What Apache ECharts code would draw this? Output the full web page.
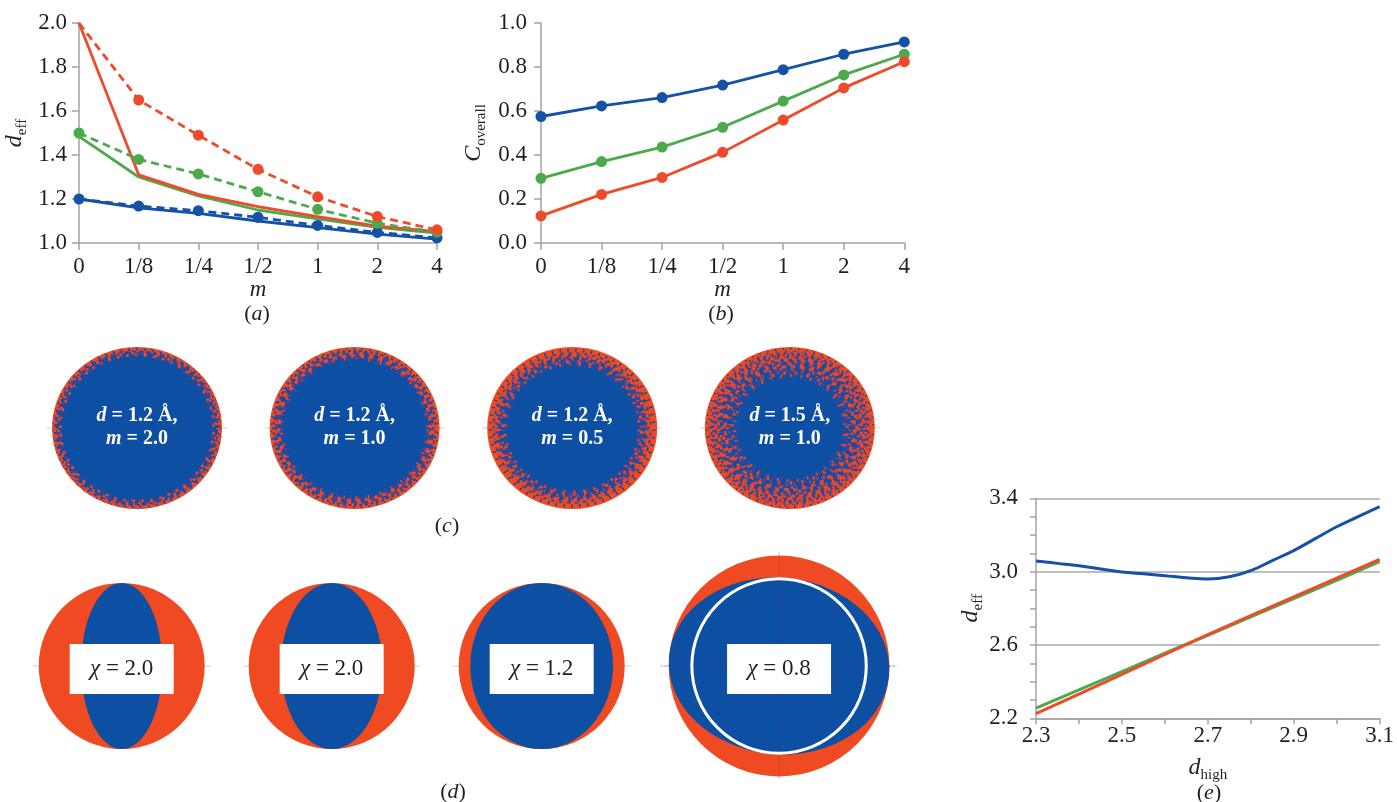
<!DOCTYPE html>
<html>
<head>
<meta charset="utf-8">
<title>Effective resolution, completeness and sampling discs</title>
<script src="https://cdn.jsdelivr.net/npm/echarts@6.0.0/dist/echarts.min.js"></script>
<style>
  html, body { margin: 0; padding: 0; background: #fff; }
  #chart { width: 1397px; height: 802px; }
</style>
</head>
<body>
<div id="chart"></div>
<script>
// ---------- data ----------
const mLabels = ['0', '1/8', '1/4', '1/2', '1', '2', '4'];

// (a) effective resolution d_eff against m
const aRedDashed   = [2.0, 1.65, 1.49, 1.335, 1.21, 1.12, 1.06];
const aRedSolid    = [2.0, 1.31, 1.221, 1.165, 1.12, 1.077, 1.052];
const aGreenDashed = [1.5, 1.38, 1.314, 1.233, 1.153, 1.09, 1.049];
const aGreenSolid  = [1.485, 1.30, 1.214, 1.15, 1.11, 1.071, 1.045];
const aBlueDashed  = [1.2, 1.168, 1.147, 1.117, 1.08, 1.048, 1.023];
const aBlueSolid   = [1.2, 1.16, 1.135, 1.1, 1.07, 1.04, 1.018];

// (b) overall completeness against m
const bBlue  = [0.575, 0.623, 0.661, 0.718, 0.788, 0.858, 0.914];
const bGreen = [0.294, 0.37, 0.436, 0.526, 0.645, 0.764, 0.858];
const bRed   = [0.123, 0.221, 0.298, 0.412, 0.559, 0.705, 0.824];

// (c) sampled discs: resolution, m, solid red edge and speckled rim depth (fraction of radius)
const cD    = ['1.2', '1.2', '1.2', '1.5'];
const cM    = ['2.0', '1.0', '0.5', '1.0'];
const cEdge = [0.02, 0.035, 0.065, 0.035];
const cRim  = [0.09, 0.12, 0.16, 0.33];

// (d) anisotropic discs: chi, relative disc size, blue ellipse half-axes, white circle, tilt (deg)
const dChi    = ['2.0', '2.0', '1.2', '0.8'];
const dScale  = [1, 1, 1, 1.33];
const dInnerX = [0.49, 0.61, 0.86, 1.0];
const dInnerY = [1.0, 1.0, 1.0, 0.8];
const dRing   = [0, 0, 0, 0.79];
const dTilt   = [0, 0, 0, -5];

// (e) d_eff against d_high
const eHigh = [2.3, 2.35, 2.4, 2.45, 2.5, 2.55, 2.6, 2.65, 2.7, 2.75, 2.8, 2.85, 2.9, 2.95, 3.0, 3.05, 3.1];
const eBlue = [3.058, 3.045, 3.032, 3.014, 2.998, 2.988, 2.978, 2.967, 2.960, 2.972, 3.005, 3.06, 3.115, 3.18, 3.245, 3.30, 3.355];
const eHighCoarse = [2.3, 2.4, 2.5, 2.6, 2.7, 2.8, 2.9, 3.0, 3.1];
const eGreen = [2.255, 2.355, 2.455, 2.555, 2.653, 2.753, 2.853, 2.953, 3.055];
const eRed   = [2.225, 2.332, 2.44, 2.548, 2.656, 2.76, 2.862, 2.965, 3.067];

// ---------- styles ----------
const SERIF = 'Liberation Serif';
const INK = '#231f20';
const AXIS_GREY = '#a3a3a3';
const BLUE = '#1551a6', RED = '#ee4b2b', GREEN = '#4caa4c';
const DISC_BLUE = '#0c4fa3', DISC_RED = '#f04a22', FLECK = '#6a3a90';

const axisLine = { show: true, onZero: false, lineStyle: { color: AXIS_GREY, width: 1.5 } };
const tick = (len) => ({ show: true, length: len, lineStyle: { color: AXIS_GREY, width: 1.5 } });
const tickLabel = (margin, extra) => Object.assign({ fontFamily: SERIF, fontSize: 23, color: INK, margin }, extra || {});

const subRich = {
  i: { fontFamily: SERIF, fontStyle: 'italic', fontSize: 24, lineHeight: 30, verticalAlign: 'middle', color: INK },
  s: { fontFamily: SERIF, fontSize: 15, lineHeight: 16, verticalAlign: 'bottom', color: INK }
};
const subName = (main, sub) => '{i|' + main + '}{s|' + sub + '}';
const italicName = { fontFamily: SERIF, fontStyle: 'italic', fontSize: 23, lineHeight: 23, color: INK };

function lineSeries(axis, data, color, dashed, dots) {
  return {
    type: 'line', xAxisIndex: axis, yAxisIndex: axis, data,
    symbol: dots ? 'circle' : 'none', symbolSize: 11, showSymbol: !!dots,
    lineStyle: { color, width: 2.8, type: dashed ? [8, 5] : 'solid' },
    itemStyle: { color }, emphasis: { disabled: true }, z: dashed ? 4 : 3
  };
}

// centres of discs packed side by side with a fixed gap (axis units = disc radius)
function packCentres(scales, gap) {
  const out = [];
  let x = 0;
  scales.forEach((s, i) => { x += (i ? gap : 0) + s; out.push(x); x += s; });
  return out;
}
const cCentres = packCentres([1, 1, 1, 1], 0.56);
const dCentres = packCentres(dScale, 0.53);

// dash patterns used to break the rim rings into irregular flecks
const SPECK_DASH = [[3, 2.5], [1.5, 3], [2.5, 4], [4, 2], [2, 3.5], [1.2, 2.4], [3.4, 3]];

function renderSampling(params, api) {
  const i = api.value(1);
  const c = api.coord([api.value(0), 0]);
  const unit = api.size([1, 1]);
  const rx = unit[0], R = unit[1];
  const inner = R * (1 - cEdge[i]);
  const rimW = R * cRim[i];
  const disc = [
    { type: 'circle', shape: { cx: 0, cy: 0, r: R }, style: { fill: DISC_RED } },
    { type: 'circle', shape: { cx: 0, cy: 0, r: inner }, style: { fill: DISC_BLUE } }
  ];
  const K = Math.max(4, Math.round(rimW / 2.2));
  const w = rimW / K;
  for (let k = 0; k < K; k++) {
    const t = (k + 0.5) / K;
    const r = inner - rimW * t;
    const d = SPECK_DASH[(k + i) % SPECK_DASH.length];
    disc.push({ type: 'circle', shape: { cx: 0, cy: 0, r },
      style: { fill: 'none', stroke: DISC_RED, lineWidth: w * 1.35,
               lineDash: [d[0] * (2.0 - 1.5 * t), d[1] * (0.5 + 2.8 * t)], lineDashOffset: k * 7.3 } });
    disc.push({ type: 'circle', shape: { cx: 0, cy: 0, r: Math.max(1, r - w * 0.5) },
      style: { fill: 'none', stroke: FLECK, lineWidth: w * 0.9,
               lineDash: [1.6, 2.2 + 3.5 * t], lineDashOffset: k * 4.1 + i } });
  }
  // blue bites into the red edge
  disc.push({ type: 'circle', shape: { cx: 0, cy: 0, r: inner + (R - inner) * 0.4 },
    style: { fill: 'none', stroke: DISC_BLUE, lineWidth: (R - inner) * 0.6, lineDash: [1.5, 6], lineDashOffset: i * 3 } });

  const txtRich = { i: { fontFamily: SERIF, fontStyle: 'italic', fontWeight: 'bold', fontSize: 20, lineHeight: 23, fill: '#fff' } };
  return {
    type: 'group', x: c[0], y: c[1],
    children: [
      { type: 'line', shape: { x1: -rx - 5, y1: 0, x2: rx + 5, y2: 0 }, style: { stroke: 'rgba(150,150,150,0.45)', lineWidth: 1 } },
      { type: 'group', scaleX: rx / R, children: disc },
      { type: 'text', x: 0, y: -1,
        style: { text: '{i|d} = ' + cD[i] + ' Å,\n{i|m} = ' + cM[i], fill: '#fff',
                 font: 'bold 20px "' + SERIF + '"', lineHeight: 23, align: 'center', verticalAlign: 'middle', rich: txtRich } }
    ]
  };
}

function renderAniso(params, api) {
  const i = api.value(1);
  const c = api.coord([api.value(0), 0]);
  const R = api.size([1, 1])[1] * dScale[i];
  const kids = [
    { type: 'line', shape: { x1: -R - 6, y1: 0, x2: R + 6, y2: 0 }, style: { stroke: 'rgba(150,150,150,0.45)', lineWidth: 1 } },
    { type: 'circle', shape: { cx: 0, cy: 0, r: R }, style: { fill: DISC_RED } },
    { type: 'group', scaleX: dInnerX[i], scaleY: dInnerY[i], rotation: dTilt[i] * Math.PI / 180,
      children: [{ type: 'circle', shape: { cx: 0, cy: 0, r: R }, style: { fill: DISC_BLUE } }] }
  ];
  if (dRing[i] > 0) {
    kids.push({ type: 'line', shape: { x1: -R - 8, y1: 0, x2: R + 8, y2: 0 }, style: { stroke: 'rgba(90,40,110,0.45)', lineWidth: 1, lineDash: [2, 2] } });
    kids.push({ type: 'line', shape: { x1: 0, y1: -R - 3, x2: 0, y2: R + 3 }, style: { stroke: 'rgba(90,40,110,0.45)', lineWidth: 1, lineDash: [2, 2] } });
    kids.push({ type: 'circle', shape: { cx: 0, cy: 0, r: R * dRing[i] }, style: { fill: 'none', stroke: '#fff', lineWidth: 3 } });
  }
  kids.push({ type: 'rect', shape: { x: -52, y: -22, width: 104, height: 50 }, style: { fill: '#fff' } });
  kids.push({ type: 'text', x: 0, y: 3,
    style: { text: '{i|χ} = ' + dChi[i], font: '23px "' + SERIF + '"', fill: INK, align: 'center', verticalAlign: 'middle',
             rich: { i: { fontFamily: SERIF, fontStyle: 'italic', fontSize: 23, fill: INK } } } });
  return { type: 'group', x: c[0], y: c[1], children: kids };
}

const panelLabel = (letter, x, y) => ({
  type: 'text', x, y,
  style: { text: '({i|' + letter + '})', font: '22px "' + SERIF + '"', fill: INK, align: 'center', verticalAlign: 'middle',
           rich: { i: { fontFamily: SERIF, fontStyle: 'italic', fontSize: 22, fill: INK } } }
});

const option = {
  backgroundColor: '#fff',
  animation: false,
  grid: [
    { left: 79, top: 23, width: 358, height: 220 },
    { left: 541, top: 23, width: 363.3, height: 220 },
    { left: 1036, top: 498.3, width: 349, height: 220 },
    { left: 52, top: 347, width: 850, height: 162 },
    { left: 38.7, top: 541.5, width: 830, height: 249 }
  ],
  xAxis: [
    { gridIndex: 0, type: 'category', data: mLabels, boundaryGap: false,
      axisLine, axisTick: tick(7), axisLabel: tickLabel(12), splitLine: { show: false },
      name: 'm', nameLocation: 'middle', nameGap: 34, nameTextStyle: italicName },
    { gridIndex: 1, type: 'category', data: mLabels, boundaryGap: false,
      axisLine, axisTick: tick(7), axisLabel: tickLabel(12), splitLine: { show: false },
      name: 'm', nameLocation: 'middle', nameGap: 34, nameTextStyle: italicName },
    { gridIndex: 2, type: 'value', min: 2.3, max: 3.1, interval: 0.1,
      axisLine, axisTick: tick(6), splitLine: { show: false },
      axisLabel: tickLabel(6, { formatter: v => (Math.round((v - 2.3) * 10) % 2 === 0 ? v.toFixed(1) : '') }),
      name: subName('d', 'high'), nameLocation: 'middle', nameGap: 34, nameTextStyle: { rich: subRich } },
    { gridIndex: 3, type: 'value', min: 0, max: 10, show: false },
    { gridIndex: 4, type: 'value', min: 0, max: 10, show: false }
  ],
  yAxis: [
    { gridIndex: 0, type: 'value', min: 1, max: 2, interval: 0.2,
      axisLine, axisTick: tick(7), splitLine: { show: false },
      axisLabel: tickLabel(12, { formatter: v => v.toFixed(1) }),
      name: subName('d', 'eff'), nameLocation: 'middle', nameRotate: 90, nameGap: 49, nameTextStyle: { rich: subRich } },
    { gridIndex: 1, type: 'value', min: 0, max: 1, interval: 0.2,
      axisLine, axisTick: tick(7), splitLine: { show: false },
      axisLabel: tickLabel(14, { formatter: v => v.toFixed(1) }),
      name: subName('C', 'overall'), nameLocation: 'middle', nameRotate: 90, nameGap: 52, nameTextStyle: { rich: subRich } },
    { gridIndex: 2, type: 'value', min: 2.2, max: 3.4, interval: 0.1,
      axisLine, axisTick: tick(6),
      splitLine: { show: true, lineStyle: { width: 1.5, color: ['#a8a8a8', 'rgba(0,0,0,0)', 'rgba(0,0,0,0)', 'rgba(0,0,0,0)'] } },
      axisLabel: tickLabel(18, { formatter: v => (Math.round((v - 2.2) * 10) % 4 === 0 ? v.toFixed(1) : '') }),
      name: subName('d', 'eff'), nameLocation: 'middle', nameRotate: 90, nameGap: 42, nameTextStyle: { rich: subRich } },
    { gridIndex: 3, type: 'value', min: -1, max: 1, show: false },
    { gridIndex: 4, type: 'value', min: -1.5, max: 1.5, show: false }
  ],
  series: [
    // (a)
    lineSeries(0, aBlueSolid, BLUE, false, false),
    lineSeries(0, aGreenSolid, GREEN, false, false),
    lineSeries(0, aRedSolid, RED, false, false),
    lineSeries(0, aBlueDashed, BLUE, true, true),
    lineSeries(0, aGreenDashed, GREEN, true, true),
    lineSeries(0, aRedDashed.map((v, i) => (i === 0 ? { value: v, symbol: 'none' } : v)), RED, true, true),
    // (b)
    lineSeries(1, bBlue, BLUE, false, true),
    lineSeries(1, bGreen, GREEN, false, true),
    lineSeries(1, bRed, RED, false, true),
    // (e)
    { type: 'line', xAxisIndex: 2, yAxisIndex: 2, data: eHigh.map((x, i) => [x, eBlue[i]]), smooth: 0.4,
      symbol: 'none', lineStyle: { color: BLUE, width: 3 }, emphasis: { disabled: true } },
    { type: 'line', xAxisIndex: 2, yAxisIndex: 2, data: eHighCoarse.map((x, i) => [x, eGreen[i]]),
      symbol: 'none', lineStyle: { color: GREEN, width: 3 }, emphasis: { disabled: true } },
    { type: 'line', xAxisIndex: 2, yAxisIndex: 2, data: eHighCoarse.map((x, i) => [x, eRed[i]]),
      symbol: 'none', lineStyle: { color: RED, width: 3 }, emphasis: { disabled: true } },
    // (c)
    { type: 'custom', xAxisIndex: 3, yAxisIndex: 3, renderItem: renderSampling, silent: true,
      data: cCentres.map((x, i) => [x, i]), encode: { x: 0 } },
    // (d)
    { type: 'custom', xAxisIndex: 4, yAxisIndex: 4, renderItem: renderAniso, silent: true,
      data: dCentres.map((x, i) => [x, i]), encode: { x: 0 } }
  ],
  graphic: [
    panelLabel('a', 257, 314),
    panelLabel('b', 721, 314),
    panelLabel('c', 447, 526),
    panelLabel('d', 453, 792),
    panelLabel('e', 1209, 793)
  ]
};

const chart = echarts.init(document.getElementById('chart'), null, { renderer: 'canvas' });
chart.setOption(option);
</script>
</body>
</html>
